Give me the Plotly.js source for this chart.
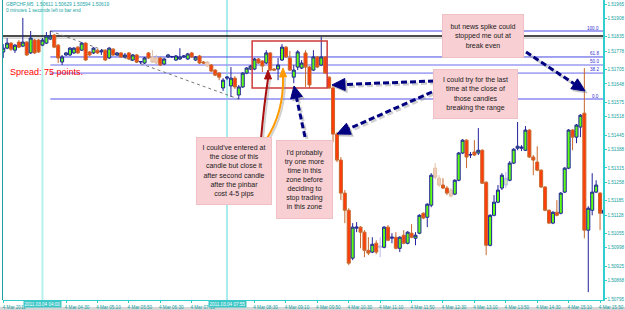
<!DOCTYPE html>
<html><head><meta charset="utf-8">
<script src="https://cdn.plot.ly/plotly-3.0.1.min.js"></script>
<style>html,body{margin:0;padding:0;background:#fff;overflow:hidden}#chart{width:625px;height:310px}</style>
</head><body><div id="chart"></div>
<script>
// ---- data (GBPCHF M5, 4 Mar 2011, bars from 03:10) ----
const open = [1.51775,1.51790,1.51810,1.51782,1.51814,1.51798,1.51814,1.51771,1.51822,1.51822,
1.51802,1.51810,1.51826,1.51842,1.51802,1.51735,1.51763,1.51763,1.51771,1.51794,
1.51782,1.51810,1.51775,1.51771,1.51782,1.51775,1.51782,1.51751,1.51786,1.51763,
1.51771,1.51755,1.51771,1.51743,1.51763,1.51735,1.51731,1.51771,1.51755,1.51751,
1.51751,1.51727,1.51755,1.51755,1.51743,1.51747,1.51755,1.51747,1.51771,1.51743,
1.51759,1.51735,1.51735,1.51723,1.51703,1.51691,1.51632,1.51671,1.51640,1.51671,
1.51604,1.51636,1.51691,1.51707,1.51707,1.51747,1.51739,1.51731,1.51771,1.51707,
1.51707,1.51743,1.51794,1.51751,1.51675,1.51715,1.51711,1.51771,1.51715,1.51703,
1.51755,1.51723,1.51755,1.51675,1.51632,1.51449,1.51346,1.51215,1.51147,1.50957,
1.51076,1.51080,1.51060,1.50988,1.50981,1.51016,1.51000,1.51000,1.51080,1.51036,
1.51040,1.50996,1.51048,1.51016,1.51056,1.51036,1.51056,1.51135,1.51119,1.51167,
1.51314,1.51274,1.51247,1.51235,1.51227,1.51211,1.51266,1.51374,1.51425,1.51366,
1.51378,1.51374,1.51385,1.51258,1.51008,1.51127,1.51179,1.51235,1.51247,1.51266,
1.51334,1.51393,1.51393,1.51385,1.51465,1.51358,1.51338,1.51306,1.51239,1.51147,
1.51096,1.51139,1.51135,1.51219,1.51314,1.51465,1.51437,1.51477,1.51532,1.51068,
1.51147,1.51219,1.51215,1.51135];
const high = [1.51806,1.51830,1.51814,1.51806,1.51822,1.51910,1.51818,1.51858,1.51826,1.51826,
1.51830,1.51854,1.51858,1.51846,1.51806,1.51763,1.51775,1.51794,1.51794,1.51798,
1.51814,1.51814,1.51779,1.51794,1.51786,1.51786,1.51786,1.51794,1.51790,1.51775,
1.51775,1.51771,1.51775,1.51767,1.51767,1.51739,1.51755,1.51775,1.51782,1.51763,
1.51755,1.51751,1.51767,1.51759,1.51763,1.51790,1.51763,1.51771,1.51775,1.51759,
1.51763,1.51739,1.51739,1.51727,1.51707,1.51695,1.51671,1.51679,1.51715,1.51679,
1.51644,1.51695,1.51715,1.51723,1.51751,1.51751,1.51743,1.51782,1.51775,1.51711,
1.51751,1.51806,1.51798,1.51779,1.51723,1.51782,1.51743,1.51782,1.51719,1.51782,
1.51759,1.51834,1.51759,1.51679,1.51640,1.51457,1.51358,1.51227,1.51155,1.51096,
1.51100,1.51084,1.51068,1.51040,1.51040,1.51028,1.51040,1.51084,1.51088,1.51056,
1.51060,1.51044,1.51068,1.51064,1.51092,1.51060,1.51131,1.51139,1.51175,1.51294,
1.51334,1.51286,1.51274,1.51243,1.51235,1.51270,1.51378,1.51429,1.51429,1.51378,
1.51425,1.51473,1.51389,1.51262,1.51131,1.51207,1.51247,1.51294,1.51298,1.51342,
1.51393,1.51497,1.51405,1.51481,1.51469,1.51366,1.51401,1.51310,1.51243,1.51151,
1.51143,1.51187,1.51219,1.51318,1.51469,1.51469,1.51489,1.51528,1.51711,1.51163,
1.51294,1.51266,1.51219,1.51167];
const low = [1.51751,1.51786,1.51779,1.51771,1.51790,1.51794,1.51759,1.51767,1.51767,1.51771,
1.51798,1.51806,1.51822,1.51790,1.51731,1.51723,1.51759,1.51759,1.51767,1.51767,
1.51779,1.51739,1.51759,1.51767,1.51767,1.51763,1.51739,1.51747,1.51759,1.51759,
1.51751,1.51751,1.51743,1.51739,1.51731,1.51727,1.51727,1.51747,1.51731,1.51727,
1.51719,1.51723,1.51751,1.51751,1.51739,1.51743,1.51751,1.51743,1.51751,1.51739,
1.51727,1.51727,1.51715,1.51695,1.51679,1.51663,1.51620,1.51663,1.51596,1.51628,
1.51588,1.51632,1.51687,1.51703,1.51703,1.51727,1.51695,1.51727,1.51699,1.51699,
1.51663,1.51739,1.51751,1.51699,1.51651,1.51703,1.51707,1.51636,1.51632,1.51699,
1.51711,1.51719,1.51687,1.51628,1.51417,1.51338,1.51187,1.51096,1.50929,1.50949,
1.51060,1.50996,1.50961,1.50969,1.50977,1.50973,1.50961,1.50996,1.51024,1.51016,
1.50992,1.50981,1.51012,1.51012,1.51036,1.51008,1.51052,1.51112,1.51080,1.51159,
1.51270,1.51239,1.51231,1.51207,1.51199,1.51207,1.51262,1.51370,1.51314,1.51354,
1.51362,1.51366,1.51251,1.50969,1.51004,1.51123,1.51175,1.51227,1.51235,1.51262,
1.51330,1.51385,1.51382,1.51382,1.51354,1.51286,1.51302,1.51235,1.51143,1.51092,
1.51092,1.51123,1.51131,1.51215,1.51310,1.51385,1.51413,1.51437,1.51036,1.50822,
1.51127,1.51215,1.51068,1.51080];
const close = [1.51790,1.51810,1.51786,1.51802,1.51794,1.51814,1.51763,1.51830,1.51771,1.51775,
1.51822,1.51838,1.51838,1.51794,1.51751,1.51755,1.51771,1.51790,1.51790,1.51771,
1.51810,1.51743,1.51763,1.51790,1.51771,1.51779,1.51743,1.51790,1.51763,1.51771,
1.51755,1.51763,1.51747,1.51763,1.51735,1.51737,1.51751,1.51751,1.51735,1.51731,
1.51723,1.51747,1.51763,1.51757,1.51759,1.51755,1.51759,1.51767,1.51755,1.51755,
1.51731,1.51731,1.51719,1.51699,1.51683,1.51675,1.51663,1.51675,1.51671,1.51636,
1.51636,1.51691,1.51711,1.51719,1.51747,1.51731,1.51719,1.51771,1.51703,1.51703,
1.51723,1.51794,1.51755,1.51703,1.51703,1.51775,1.51731,1.51715,1.51644,1.51755,
1.51715,1.51755,1.51691,1.51632,1.51449,1.51346,1.51215,1.51147,1.50937,1.51080,
1.51080,1.51060,1.50988,1.50977,1.51012,1.50981,1.51004,1.51080,1.51028,1.51040,
1.50996,1.51040,1.51016,1.51060,1.51040,1.51048,1.51127,1.51116,1.51171,1.51286,
1.51278,1.51247,1.51235,1.51215,1.51203,1.51266,1.51374,1.51425,1.51358,1.51368,
1.51366,1.51385,1.51254,1.51008,1.51127,1.51179,1.51227,1.51286,1.51274,1.51334,
1.51389,1.51401,1.51397,1.51465,1.51358,1.51346,1.51306,1.51239,1.51147,1.51096,
1.51139,1.51127,1.51215,1.51314,1.51465,1.51437,1.51485,1.51524,1.51068,1.51155,
1.51219,1.51247,1.51135,1.51147];
const fadedBars = [38,39,52,96,110,111,114,128];
// labels at 03:50 and 07:50 are hidden under the vertical-line date boxes in the original
const xTickText = ['4 Mar 2011','','4 Mar 04:30','4 Mar 05:10','4 Mar 05:50','4 Mar 06:30',
'4 Mar 07:10','','4 Mar 08:30','4 Mar 09:10','4 Mar 09:50','4 Mar 10:30','4 Mar 11:10',
'4 Mar 11:50','4 Mar 12:30','4 Mar 13:10','4 Mar 13:50','4 Mar 14:30','4 Mar 15:10','4 Mar 15:50'];
const xTickBars = [0,8,16,24,32,40,48,56,64,72,80,88,96,104,112,120,128,136,144,152];
const yTicks = [1.51965,1.51908,1.51835,1.51778,1.51705,1.51648,1.51575,1.51518,1.51445,1.51388,
1.51315,1.51258,1.51185,1.51128,1.51055,1.50998,1.50925,1.50868,1.50795];
const fibLevels = [1.51858,1.51755,1.51723,1.51691,1.51588];
const fibNames = ['100.0','61.8','50.0','38.2','0.0'];
const fibStartBar = 12, fibLowBar = 60;
const blackLine = 1.51838;
const vLineBars = [10,57];
const vLineLabels = ['2011.03.04 04:00','2011.03.04 07:55'];
const rangeBox = {b0:63.4, b1:82.5, p0:1.51632, p1:1.51818};

// ---- build traces ----
const idx = open.map((_, i) => i);
function pick(arr, keepFaded){ return arr.filter((_, i) => fadedBars.includes(i) === keepFaded); }
const mainTrace = {type:'candlestick', x:pick(idx,false), open:pick(open,false), high:pick(high,false),
  low:pick(low,false), close:pick(close,false), whiskerwidth:0, hoverinfo:'skip', showlegend:false,
  increasing:{line:{color:'#22229a',width:1}, fillcolor:'#5cff14'},
  decreasing:{line:{color:'#c8682c',width:1}, fillcolor:'#ff3c0a'}};
const fadedTrace = {type:'candlestick', x:pick(idx,true), open:pick(open,true), high:pick(high,true),
  low:pick(low,true), close:pick(close,true), whiskerwidth:0, hoverinfo:'skip', showlegend:false,
  increasing:{line:{color:'#b8b8e8',width:1}, fillcolor:'#c8f4a8'},
  decreasing:{line:{color:'#e0c0a8',width:1}, fillcolor:'#f4cdb8'}};

// ---- pixel helpers for layout decorations ----
const L=3, W=600, T=0, H=300;
const px = x => (x-L)/W;
const py = y => 1-(y-T)/H;
const P = (x,y) => px(x)+','+py(y);

const shapes = [];
shapes.push({type:'rect', xref:'paper', yref:'paper', x0:px(0), x1:px(625), y0:py(307), y1:py(311), fillcolor:'#d6d6d6', line:{width:0}, layer:'below'});
shapes.push({type:'line', xref:'paper', yref:'paper', x0:px(2.5), x1:px(2.5), y0:py(300), y1:py(0), line:{color:'#1f9f9f', width:1}});
shapes.push({type:'line', xref:'x', yref:'paper', x0:vLineBars[0], x1:vLineBars[0], y0:0, y1:1, line:{color:'#b6f2ea', width:2}, layer:'below'});
shapes.push({type:'line', xref:'x', yref:'paper', x0:vLineBars[1], x1:vLineBars[1], y0:0, y1:1, line:{color:'#55d8d8', width:1}, layer:'below'});
shapes.push({type:'line', xref:'paper', yref:'y', x0:0, x1:1, y0:blackLine, y1:blackLine, line:{color:'#111111', width:1.5}, layer:'below'});
shapes.push({type:'line', xref:'paper', yref:'y', x0:0, x1:1, y0:blackLine-0.00008, y1:blackLine-0.00008, line:{color:'#bbbbbb', width:1}, layer:'below'});
const fibColors = ['#4848e4','#4848e4','#9c9cf2','#a8a8f4','#a8a8f4'];
const fibWidths = [1.2,1,1.6,1.8,2];
fibLevels.forEach((v,k)=>shapes.push({type:'line', xref:'x', yref:'y', x0:fibStartBar, x1:160, y0:v, y1:v, line:{color:fibColors[k], width:fibWidths[k]}, layer:'below'}));
shapes.push({type:'line', xref:'x', yref:'y', x0:fibStartBar, x1:fibLowBar, y0:fibLevels[0], y1:fibLevels[4], line:{color:'#777777', width:1, dash:'dot'}, layer:'below'});
shapes.push({type:'rect', xref:'x', yref:'y', x0:rangeBox.b0, x1:rangeBox.b1, y0:rangeBox.p0, y1:rangeBox.p1, line:{color:'#cf3a3a', width:1.5}, fillcolor:'rgba(0,0,0,0)'});

function arrow(S, Tp, color, width, dash, hl, hw, shadow){
  const dx=Tp[0]-S[0], dy=Tp[1]-S[1], len=Math.hypot(dx,dy), ux=dx/len, uy=dy/len;
  const bx=Tp[0]-ux*hl, by=Tp[1]-uy*hl, nx=-uy, ny=ux;
  const mk=(o,col)=>{
    shapes.push({type:'path', xref:'paper', yref:'paper', path:'M'+P(S[0]+o,S[1]+o)+' L'+P(bx+o,by+o), line:{color:col,width:width,dash:dash}});
    shapes.push({type:'path', xref:'paper', yref:'paper', path:'M'+P(Tp[0]+o,Tp[1]+o)+' L'+P(bx+nx*hw+o,by+ny*hw+o)+' L'+P(bx-nx*hw+o,by-ny*hw+o)+' Z', fillcolor:col, line:{color:col,width:1}});
  };
  if(shadow) mk(2,'rgba(140,140,140,0.4)');
  mk(0,color);
}
function curve(S, C, E, Tp, color, width, hw){
  shapes.push({type:'path', xref:'paper', yref:'paper', path:'M'+P(S[0]+2,S[1]+1)+' Q'+P(C[0]+2,C[1]+1)+' '+P(E[0]+2,E[1]+1), line:{color:'rgba(140,140,140,0.4)',width:width}});
  shapes.push({type:'path', xref:'paper', yref:'paper', path:'M'+P(S[0],S[1])+' Q'+P(C[0],C[1])+' '+P(E[0],E[1]), line:{color:color,width:width}});
  const dx=Tp[0]-E[0], dy=Tp[1]-E[1], len=Math.hypot(dx,dy), nx=-dy/len, ny=dx/len;
  shapes.push({type:'path', xref:'paper', yref:'paper', path:'M'+P(Tp[0],Tp[1])+' L'+P(E[0]+nx*hw,E[1]+ny*hw)+' L'+P(E[0]-nx*hw,E[1]-ny*hw)+' Z', fillcolor:color, line:{color:color,width:1}});
}
const navy='#000080', dsh='6px,3px';
arrow([305,137],[294,86],navy,3,dsh,12,6,true);
arrow([434,81],[332,85],navy,3,dsh,13,6,true);
arrow([432,92],[337,134],navy,3,dsh,13,6,true);
arrow([526,52],[585,91],navy,3,dsh,13,6,true);
curve([261,139],[264,105],[268,79],[268,70],'#a80f0f',2,3.5);
curve([266,140],[284,112],[283,77],[283,68],'#ff9a00',2,3.5);

// ---- annotations ----
const fnt = 'Liberation Sans, Arial, sans-serif';
const ann = [];
ann.push({xref:'paper', yref:'paper', x:px(4), y:py(4.5), xanchor:'left', yanchor:'middle', showarrow:false,
  text:'GBPCHF,M5  1.50611 1.50629 1.50594 1.50619', font:{size:4.8, color:'#16a3a3', family:fnt}});
ann.push({xref:'paper', yref:'paper', x:px(4), y:py(11), xanchor:'left', yanchor:'middle', showarrow:false,
  text:'0 minutes 1 seconds left to bar end', font:{size:4.8, color:'#16a3a3', family:fnt}});
ann.push({xref:'paper', yref:'paper', x:px(8), y:py(72), xanchor:'left', yanchor:'middle', showarrow:false,
  text:'Spread: 75 points.', font:{size:9, color:'#ff0000', family:fnt}});
const fibLabelY = [28,54,61.5,69.5,96];
fibNames.forEach((n,k)=>ann.push({xref:'paper', yref:'paper', x:px(601), y:py(fibLabelY[k]), xanchor:'right', yanchor:'middle', showarrow:false,
  text:n, font:{size:4.6, color:'#3030d0', family:fnt}}));
const boxes = [
  {cx:483, cy:36, w:80, h:42, t:'but news spike could<br>stopped me out at<br>break even'},
  {cx:475.5, cy:94, w:83, h:48, t:'I could try for the last<br>time at the close of<br>those candles<br>breaking the range'},
  {cx:234, cy:171, w:74, h:66, t:'I could\'ve entered at<br>the close of this<br>candle but close it<br>after second candle<br>after the pinbar<br>cost 4-5 pips'},
  {cx:304.5, cy:179.5, w:55, h:77, t:'I\'d probably<br>try one more<br>time in this<br>zone before<br>deciding to<br>stop trading<br>in this zone'}
];
boxes.forEach(b=>ann.push({xref:'paper', yref:'paper', x:px(b.cx), y:py(b.cy), xanchor:'center', yanchor:'middle', showarrow:false,
  width:b.w, height:b.h, borderpad:0, bgcolor:'#f8cfd3', bordercolor:'#efc0c4', borderwidth:1, align:'center', valign:'middle',
  text:b.t, font:{size:7, color:'#1a1a1a', family:fnt}}));
vLineBars.forEach((b,k)=>ann.push({xref:'x', yref:'paper', x:b, y:py(304.5), xanchor:'center', yanchor:'middle', showarrow:false,
  text:vLineLabels[k], bgcolor:'#3cc6c6', borderpad:0.5, font:{size:4.6, color:'#ffffff', family:fnt}}));

const layout = {
  width:625, height:310, margin:{l:3, r:22, t:0, b:10}, paper_bgcolor:'#ffffff', plot_bgcolor:'#ffffff',
  showlegend:false, boxgap:0.12, boxgroupgap:0.12,
  xaxis:{range:[-0.05,152.75], rangeslider:{visible:false}, tickvals:xTickBars, ticktext:xTickText,
    ticks:'outside', ticklen:2, tickcolor:'#30cfcf', showline:true, linecolor:'#30cfcf', linewidth:1,
    showgrid:false, zeroline:false, ticklabelshift:11, ticklabeloverflow:'allow',
    tickfont:{size:4.6, color:'#14a0a0', family:fnt}},
  yaxis:{range:[1.50791,1.51981], side:'right', tickvals:yTicks, ticktext:yTicks.map(v=>v.toFixed(5)),
    ticks:'outside', ticklen:2, tickcolor:'#30cfcf', showline:true, linecolor:'#30cfcf', linewidth:1.5,
    showgrid:false, zeroline:false, ticklabeloverflow:'allow',
    tickfont:{size:4.6, color:'#14a0a0', family:fnt}},
  shapes:shapes, annotations:ann
};
Plotly.newPlot('chart', [fadedTrace, mainTrace], layout, {staticPlot:true, displayModeBar:false});
</script></body></html>
